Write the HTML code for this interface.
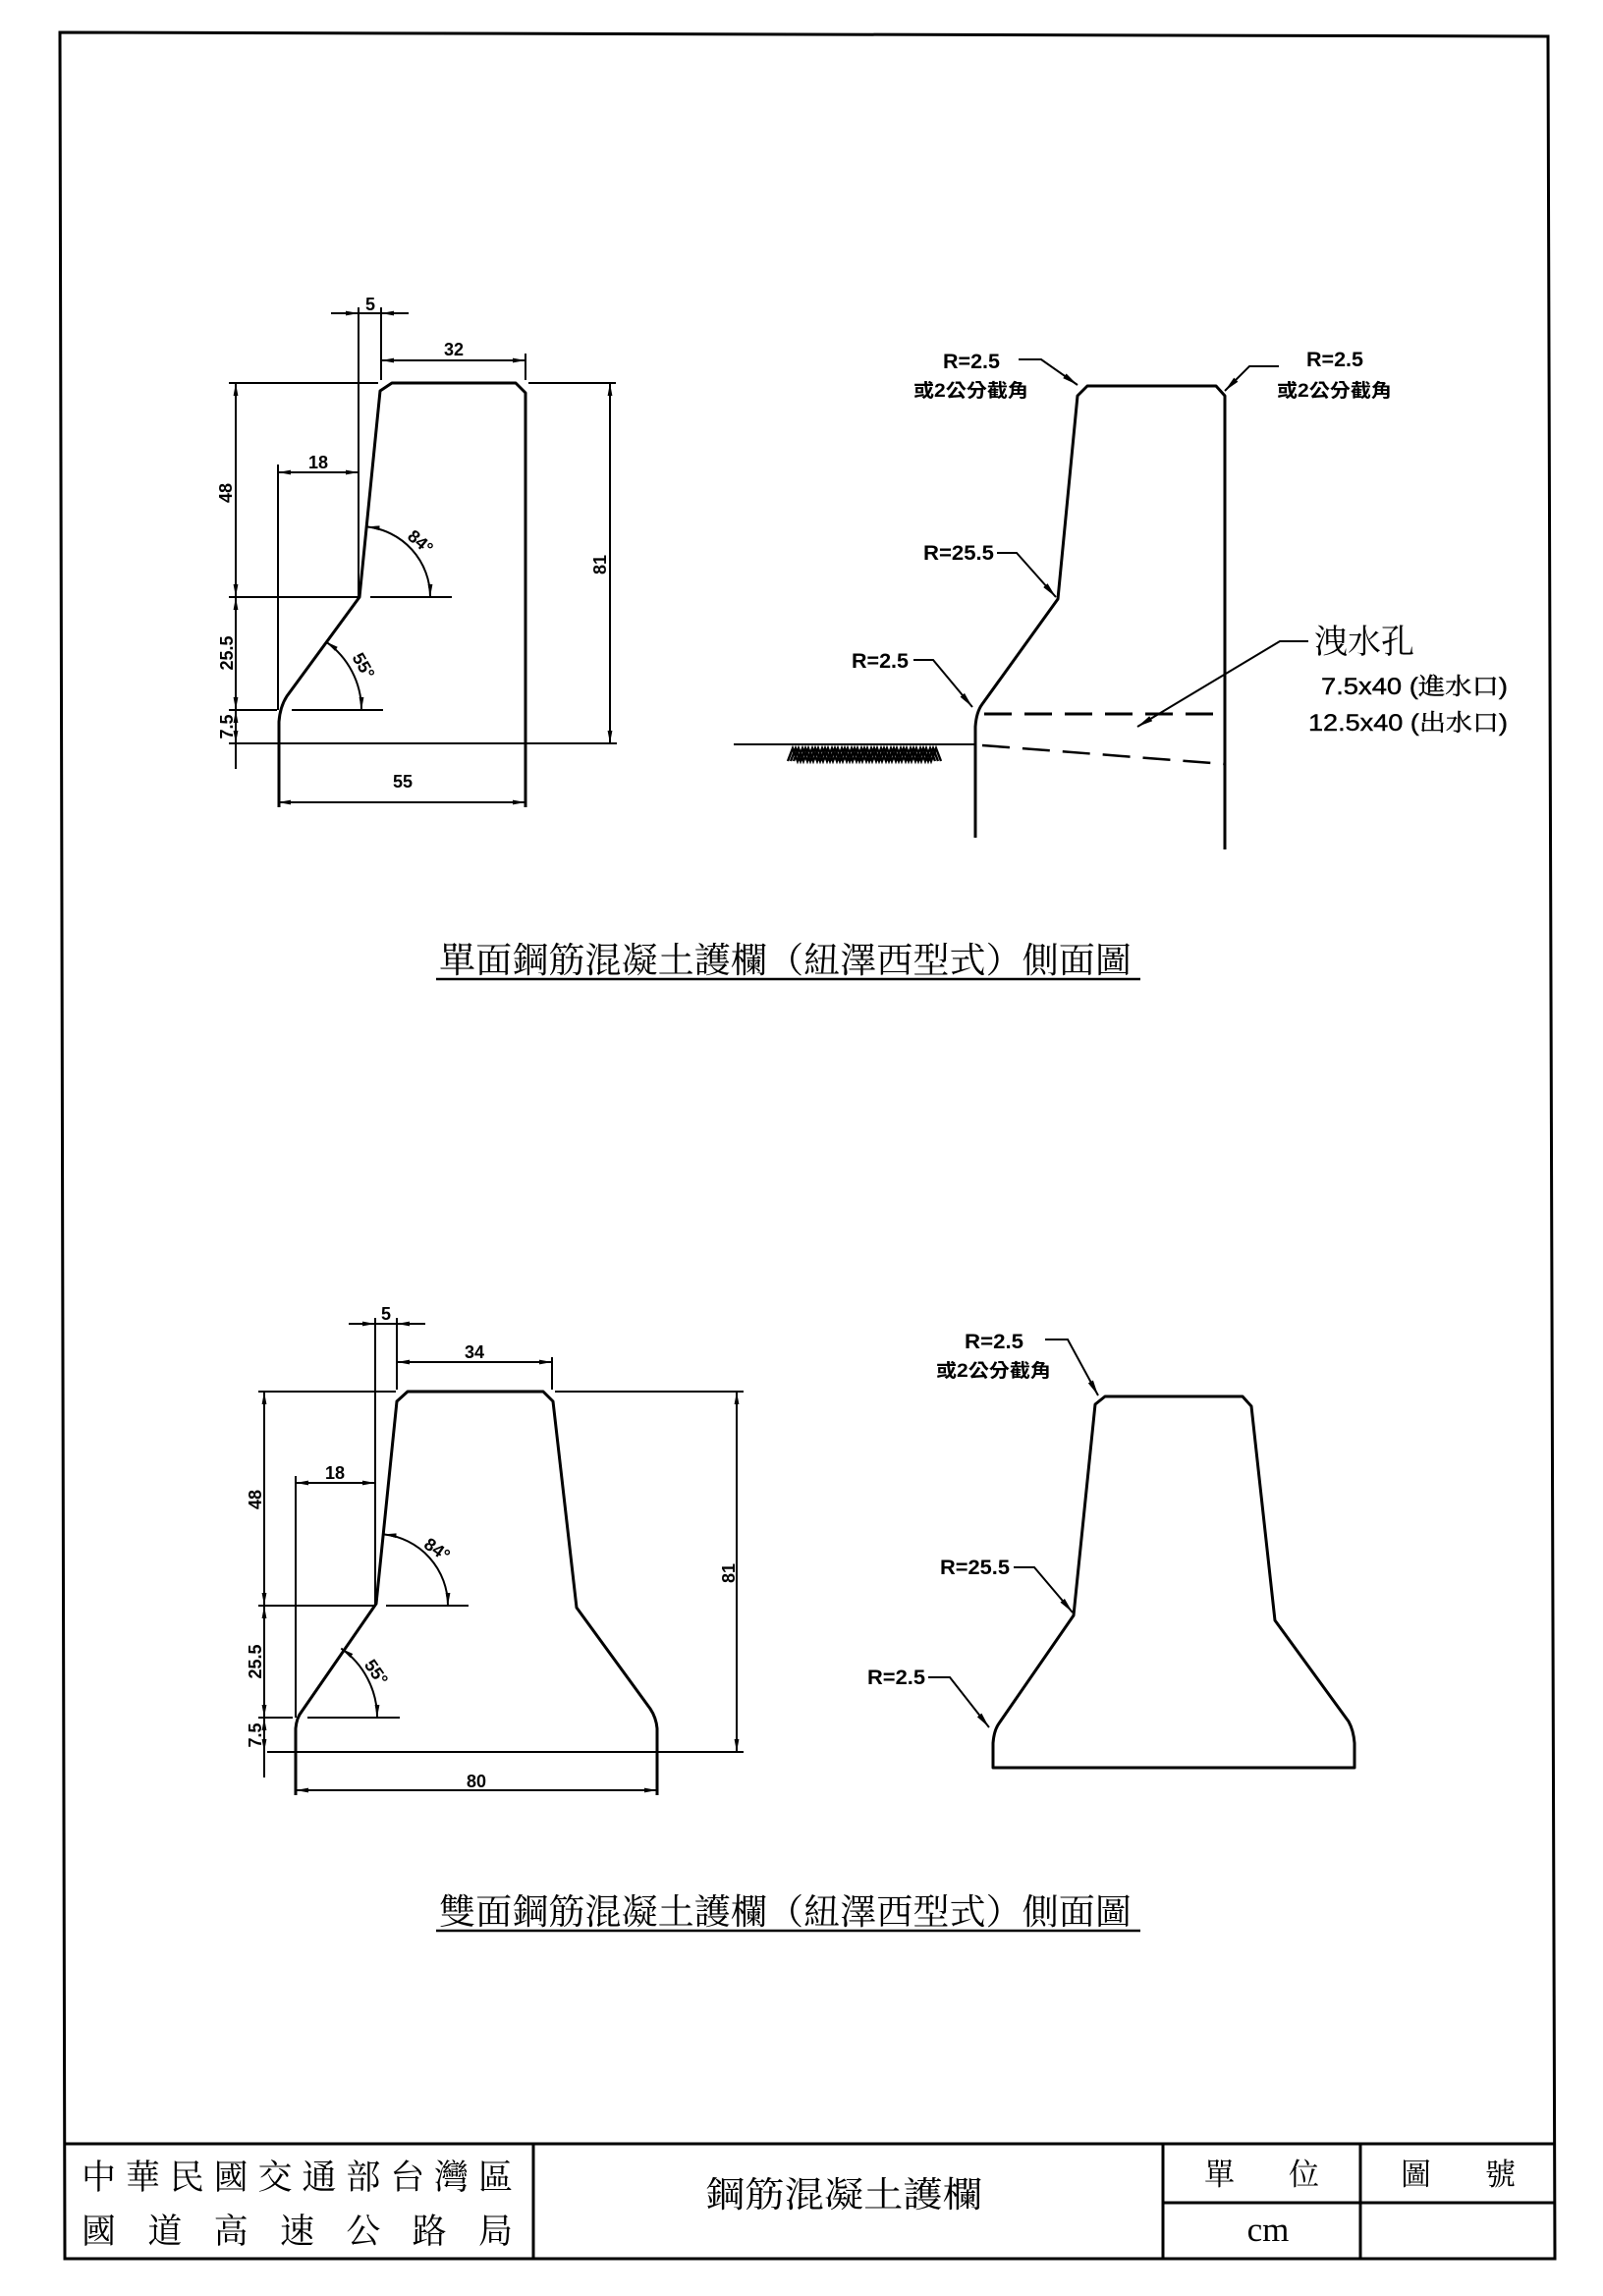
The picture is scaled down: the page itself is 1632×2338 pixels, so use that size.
<!DOCTYPE html>
<html><head><meta charset="utf-8"><style>
html,body{margin:0;padding:0;background:#fff;}
svg{display:block;}
text{font-family:"Liberation Sans","Noto Sans CJK TC",sans-serif;fill:#000;}
.d{font-size:18px;font-weight:bold;}
.r{font-size:21px;font-weight:bold;}
.k{font-family:"Liberation Sans","Noto Sans CJK TC",sans-serif;font-size:19px;font-weight:bold;}
.s{font-family:"Noto Serif CJK SC","Noto Sans CJK TC",serif;}
.ms{font-family:"Liberation Sans","Noto Serif CJK SC",serif;}
</style></head><body>
<svg width="1632" height="2338" viewBox="0 0 1632 2338" xmlns="http://www.w3.org/2000/svg">
<defs>
<marker id="a" markerUnits="userSpaceOnUse" markerWidth="14" markerHeight="6" refX="13" refY="3" orient="auto-start-reverse"><path d="M0,0.6 L13,3 L0,5.4 z" fill="#000"/></marker>
<marker id="l" markerUnits="userSpaceOnUse" markerWidth="17" markerHeight="7" refX="16" refY="3.5" orient="auto"><path d="M0,0.6 L16,3.5 L0,6.4 z" fill="#000"/></marker>
</defs>
<rect x="0" y="0" width="1632" height="2338" fill="#fff"/>

<!-- frame -->
<polygon points="61,33 1576,37 1583,2300 66,2300" fill="none" stroke="#000" stroke-width="3"/>
<g stroke="#000" stroke-width="3" fill="none">
<path d="M66,2183 H1583"/>
<path d="M543,2183 V2300"/>
<path d="M1184,2183 V2300"/>
<path d="M1385,2183 V2300"/>
<path d="M1184,2243 H1583"/>
</g>

<!-- ============ TOP LEFT ============ -->
<g stroke="#000" stroke-width="3" fill="none" stroke-linejoin="round">
<path d="M284,822 L284,735 Q285,720 292,709 L366,608 L387,398 L399,390 L525,390 L535,400 L535,822"/>
</g>
<g stroke="#000" stroke-width="2" fill="none">
<path d="M233,390 H385"/><path d="M538,390 H627"/>
<path d="M233,757 H628"/>
<path d="M365,313 V608"/><path d="M388,313 V387"/><path d="M535,360 V387"/>
<path d="M337,319 H365" marker-end="url(#a)"/><path d="M416,319 H388" marker-end="url(#a)"/><path d="M365,319 H388"/>
<path d="M388,367 H535" marker-start="url(#a)" marker-end="url(#a)"/>
<path d="M283,473 V723"/>
<path d="M283,481 H365" marker-start="url(#a)" marker-end="url(#a)"/>
<path d="M240,390 V608" marker-start="url(#a)" marker-end="url(#a)"/>
<path d="M240,608 V723" marker-start="url(#a)" marker-end="url(#a)"/>
<path d="M240,723 V757" marker-start="url(#a)" marker-end="url(#a)"/>
<path d="M240,757 V783"/>
<path d="M233,608 H366"/><path d="M377,608 H460"/>
<path d="M233,723 H282"/><path d="M297,723 H390"/>
<path d="M621,390 V757" marker-start="url(#a)" marker-end="url(#a)"/>
<path d="M283,817 H535" marker-start="url(#a)" marker-end="url(#a)"/>
<path d="M373.5,536.4 A72,72 0 0,1 438,608" marker-start="url(#a)" marker-end="url(#a)"/>
<path d="M331.8,653.4 A85,85 0 0,1 368,723" marker-start="url(#a)" marker-end="url(#a)"/>
</g>
<g class="d" text-anchor="middle">
<text x="377" y="316">5</text>
<text x="462" y="362">32</text>
<text x="324" y="477">18</text>
<text x="410" y="802">55</text>
<text x="230" y="502" dominant-baseline="central" transform="rotate(-90 230 502)">48</text>
<text x="231" y="665" dominant-baseline="central" transform="rotate(-90 231 665)">25.5</text>
<text x="231" y="740" dominant-baseline="central" transform="rotate(-90 231 740)">7.5</text>
<text x="611" y="575" dominant-baseline="central" transform="rotate(-90 611 575)">81</text>
<text x="428" y="552" dominant-baseline="central" transform="rotate(40 428 552)">84°</text>
<text x="370" y="678" dominant-baseline="central" transform="rotate(60 370 678)">55°</text>
</g>

<!-- ============ TOP RIGHT ============ -->
<g stroke="#000" stroke-width="3" fill="none" stroke-linejoin="round">
<path d="M993,853 L993,740 Q994,725 1000,717 L1077,610 L1097,403 L1107,393 L1238,393 L1247,403 L1247,865"/>
<path d="M1002,727 H1247" stroke-dasharray="28 13"/>
<path d="M1000,759 L1247,778" stroke-width="2.5" stroke-dasharray="28 13"/>
</g>
<g stroke="#000" stroke-width="2" fill="none">
<path d="M747,758 H993"/>
<path d="M1037,366 H1060 L1097,392" marker-end="url(#l)"/>
<path d="M1302,373 H1272 L1247,398" marker-end="url(#l)"/>
<path d="M1015,563 H1035 L1075,608" marker-end="url(#l)"/>
<path d="M930,672 H950 L990,720" marker-end="url(#l)"/>
<path d="M1332,653 H1303 L1158,740" marker-end="url(#l)"/>
</g>
<g stroke="#000" stroke-width="2.4" fill="none">
<polyline points="805,775 810,762 815,775 820,762 825,775 830,762 835,775 840,762 845,775 850,762 855,775 860,762 865,775 870,762 875,775 880,762 885,775 890,762 895,775 900,762 905,775 910,762 915,775 920,762 925,775 930,762 935,775 940,762 945,775 950,762 955,775"/>
<polyline points="808,775 813,762 818,775 823,762 828,775 833,762 838,775 843,762 848,775 853,762 858,775 863,762 868,775 873,762 878,775 883,762 888,775 893,762 898,775 903,762 908,775 913,762 918,775 923,762 928,775 933,762 938,775 943,762 948,775 953,762 958,775"/>
<polyline points="802,775 807,762 812,775 817,762 822,775 827,762 832,775 837,762 842,775 847,762 852,775 857,762 862,775 867,762 872,775 877,762 882,775 887,762 892,775 897,762 902,775 907,762 912,775 917,762 922,775 927,762 932,775 937,762 942,775 947,762 952,775"/>
</g>
<text class="r" x="960" y="375" textLength="58" lengthAdjust="spacingAndGlyphs">R=2.5</text>
<text class="k" x="930" y="404" textLength="117" lengthAdjust="spacingAndGlyphs">或2公分截角</text>
<text class="r" x="1330" y="373" textLength="58" lengthAdjust="spacingAndGlyphs">R=2.5</text>
<text class="k" x="1300" y="404" textLength="117" lengthAdjust="spacingAndGlyphs">或2公分截角</text>
<text class="r" x="940" y="570" textLength="72" lengthAdjust="spacingAndGlyphs">R=25.5</text>
<text class="r" x="867" y="680" textLength="58" lengthAdjust="spacingAndGlyphs">R=2.5</text>
<text class="s" x="1338" y="665" font-size="34" textLength="102" lengthAdjust="spacingAndGlyphs">洩水孔</text>
<text class="ms" x="1345" y="707" font-size="24" textLength="190" lengthAdjust="spacingAndGlyphs" stroke="#000" stroke-width="0.4">7.5x40 (進水口)</text>
<text class="ms" x="1332" y="744" font-size="24" textLength="203" lengthAdjust="spacingAndGlyphs" stroke="#000" stroke-width="0.4">12.5x40 (出水口)</text>

<!-- title 1 -->
<text class="s" x="447" y="990" font-size="36" textLength="705" lengthAdjust="spacingAndGlyphs">單面鋼筋混凝土護欄（紐澤西型式）側面圖</text>
<path d="M444,997 H1161" stroke="#000" stroke-width="2.5"/>

<!-- ============ BOTTOM LEFT ============ -->
<g stroke="#000" stroke-width="3" fill="none" stroke-linejoin="round">
<path d="M301,1828 L301,1760 Q302,1749 307,1743 L383,1633 L404,1427 L415,1417 L553,1417 L563,1427 L587,1637 L662,1740 Q668,1749 669,1760 L669,1828"/>
</g>
<g stroke="#000" stroke-width="2" fill="none">
<path d="M263,1417 H403"/><path d="M565,1417 H757"/>
<path d="M272,1784 H757"/>
<path d="M382,1342 V1635"/><path d="M404,1342 V1415"/><path d="M562,1382 V1415"/>
<path d="M355,1348 H382" marker-end="url(#a)"/><path d="M433,1348 H404" marker-end="url(#a)"/><path d="M382,1348 H404"/>
<path d="M404,1387 H562" marker-start="url(#a)" marker-end="url(#a)"/>
<path d="M301,1503 V1749"/>
<path d="M301,1510 H382" marker-start="url(#a)" marker-end="url(#a)"/>
<path d="M269,1417 V1635" marker-start="url(#a)" marker-end="url(#a)"/>
<path d="M269,1635 V1749" marker-start="url(#a)" marker-end="url(#a)"/>
<path d="M269,1749 V1784" marker-start="url(#a)" marker-end="url(#a)"/>
<path d="M269,1784 V1810"/>
<path d="M263,1635 H383"/><path d="M393,1635 H477"/>
<path d="M263,1749 H298"/><path d="M313,1749 H407"/>
<path d="M750,1417 V1784" marker-start="url(#a)" marker-end="url(#a)"/>
<path d="M301,1823 H669" marker-start="url(#a)" marker-end="url(#a)"/>
<path d="M390.6,1562.4 A73,73 0 0,1 456,1635" marker-start="url(#a)" marker-end="url(#a)"/>
<path d="M347.3,1678.6 A86,86 0 0,1 384,1749" marker-start="url(#a)" marker-end="url(#a)"/>
</g>
<g class="d" text-anchor="middle">
<text x="393" y="1344">5</text>
<text x="483" y="1383">34</text>
<text x="341" y="1506">18</text>
<text x="485" y="1820">80</text>
<text x="260" y="1527" dominant-baseline="central" transform="rotate(-90 260 1527)">48</text>
<text x="260" y="1692" dominant-baseline="central" transform="rotate(-90 260 1692)">25.5</text>
<text x="260" y="1767" dominant-baseline="central" transform="rotate(-90 260 1767)">7.5</text>
<text x="742" y="1602" dominant-baseline="central" transform="rotate(-90 742 1602)">81</text>
<text x="445" y="1578" dominant-baseline="central" transform="rotate(35 445 1578)">84°</text>
<text x="383" y="1703" dominant-baseline="central" transform="rotate(55 383 1703)">55°</text>
</g>

<!-- ============ BOTTOM RIGHT ============ -->
<g stroke="#000" stroke-width="3" fill="none" stroke-linejoin="round">
<path d="M1011,1800 L1011,1775 Q1012,1762 1017,1755 L1093,1645 L1115,1430 L1125,1422 L1265,1422 L1274,1432 L1298,1650 L1373,1753 Q1378,1762 1379,1775 L1379,1800 Z"/>
</g>
<g stroke="#000" stroke-width="2" fill="none">
<path d="M1064,1364 H1087 L1118,1421" marker-end="url(#l)"/>
<path d="M1032,1596 H1053 L1092,1642" marker-end="url(#l)"/>
<path d="M945,1708 H967 L1007,1759" marker-end="url(#l)"/>
</g>
<text class="r" x="982" y="1373" textLength="60" lengthAdjust="spacingAndGlyphs">R=2.5</text>
<text class="k" x="953" y="1402" textLength="117" lengthAdjust="spacingAndGlyphs">或2公分截角</text>
<text class="r" x="957" y="1603" textLength="71" lengthAdjust="spacingAndGlyphs">R=25.5</text>
<text class="r" x="883" y="1715" textLength="59" lengthAdjust="spacingAndGlyphs">R=2.5</text>

<!-- title 2 -->
<text class="s" x="447" y="1959" font-size="36" textLength="705" lengthAdjust="spacingAndGlyphs">雙面鋼筋混凝土護欄（紐澤西型式）側面圖</text>
<path d="M444,1966 H1161" stroke="#000" stroke-width="2.5"/>

<!-- title block text -->
<text class="s" x="83" y="2229" font-size="35" textLength="439" lengthAdjust="spacing">中華民國交通部台灣區</text>
<text class="s" x="83" y="2284" font-size="35" textLength="439" lengthAdjust="spacing">國道高速公路局</text>
<text class="s" x="718" y="2247" font-size="36" textLength="282" lengthAdjust="spacingAndGlyphs">鋼筋混凝土護欄</text>
<text class="s" x="1226" y="2225" font-size="31">單</text>
<text class="s" x="1312" y="2225" font-size="31">位</text>
<text class="s" x="1426" y="2225" font-size="31">圖</text>
<text class="s" x="1512" y="2225" font-size="31">號</text>
<text x="1291" y="2282" font-size="35" text-anchor="middle" style="font-family:'Liberation Serif',serif">cm</text>
</svg>
</body></html>
